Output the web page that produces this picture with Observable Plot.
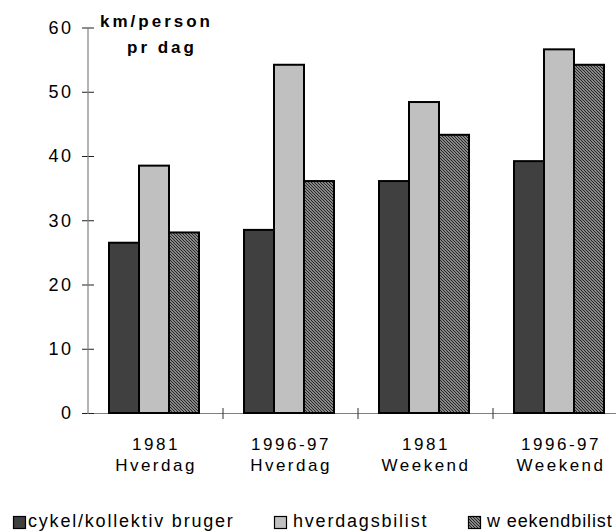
<!DOCTYPE html>
<html>
<head>
<meta charset="utf-8">
<script src="https://cdn.jsdelivr.net/npm/d3@7"></script>
<script src="https://cdn.jsdelivr.net/npm/@observablehq/plot@0.6"></script>
<style>
  html, body { margin: 0; padding: 0; background: #fff; }
  #wrap { position: relative; width: 616px; height: 531px; overflow: hidden; font-family: "Liberation Sans", Arial, sans-serif; }
  #title { position: absolute; left: 100px; top: 9px; font-weight: bold; font-size: 17px; line-height: 26px; letter-spacing: 3px; color: #000; white-space: pre; }
  svg { display: block; }
</style>
</head>
<body>
<div id="wrap"><div id="chart"></div><div id="legend"></div><div id="title"></div></div>
<script>
// ---- data ----
const groups = ["1981\nHverdag", "1996-97\nHverdag", "1981\nWeekend", "1996-97\nWeekend"];
const series = ["cykel/kollektiv bruger", "hverdagsbilist", "w eekendbilist"];
const cykelValues = [26.5, 28.5, 36.1, 39.2];
const hverdagsValues = [38.5, 54.2, 48.4, 56.6];
const weekendValues = [28.1, 36.1, 43.3, 54.2];
const yTicks = [0, 10, 20, 30, 40, 50, 60];
const seriesColors = ["#404040", "#c0c0c0", "url(#hatch)"];
const titleLines = ["km/person", "pr dag"];

const valueLists = [cykelValues, hverdagsValues, weekendValues];
const data = groups.flatMap((g, i) => series.map((s, j) => ({group: g, series: s, value: valueLists[j][i]})));

const plot = Plot.plot({
  width: 616,
  height: 500,
  marginTop: 27.5,
  marginBottom: 87,
  marginLeft: 88,
  marginRight: 0,
  style: {fontFamily: "'Liberation Sans', Arial, sans-serif", fontSize: "17px", letterSpacing: "2.5px", color: "#000", background: "#fff", overflow: "hidden"},
  fx: {domain: groups, range: [88, 628], padding: 0, axis: null, label: null},
  x: {domain: series, paddingInner: 0, paddingOuter: 0.725, align: 0.47, axis: null},
  y: {domain: [0, 60], axis: null},
  color: {domain: series, range: seriesColors},
  marks: [
    Plot.ruleY([0], {stroke: "#808080", strokeWidth: 1.2}),
    Plot.barY(data, {fx: "group", x: "series", y: "value", fill: "series", stroke: "#000", strokeWidth: 2}),
    Plot.axisY(yTicks, {tickSize: 12, dx: 6, tickPadding: 9, fontSize: 18, stroke: "#202020", label: null}),
    Plot.axisFx({anchor: "bottom", tickSize: 0, tickPadding: 22, lineHeight: 1.235, label: null})
  ]
});

const svg = d3.select(plot);
// hatch pattern
const defs = svg.insert("defs", ":first-child");
const pat = defs.append("pattern").attr("id", "hatch").attr("patternUnits", "userSpaceOnUse").attr("width", 3).attr("height", 3);
pat.append("rect").attr("width", 3).attr("height", 3).attr("fill", "#d4d4d4");
pat.append("path").attr("d", "M-1,-1L4,4M-1,2L1,4M2,-1L4,1").attr("stroke", "#262626").attr("stroke-width", 1.3);

// y axis line and group separator ticks from the scales
const fx = plot.scale("fx");
const y = plot.scale("y");
const y0 = y.apply(0), yTop = y.apply(60);
const left = fx.apply(groups[0]);
svg.append("line").attr("x1", left).attr("x2", left).attr("y1", yTop).attr("y2", y0 + 1)
  .attr("stroke", "#808080").attr("stroke-width", 1.2);
groups.forEach(g => {
  const xb = fx.apply(g) + fx.step;
  svg.append("line").attr("x1", xb).attr("x2", xb).attr("y1", y0 - 5).attr("y2", y0 + 6)
    .attr("stroke", "#303030").attr("stroke-width", 1);
});

document.getElementById("chart").appendChild(plot);

// title
document.getElementById("title").innerHTML = titleLines[0] + "<br><span style='padding-left:27px'>" + titleLines[1] + "</span>";

// legend
const legendX = [13, 274, 468];
const legendGap = [15, 19, 19];
const legendSpacing = ["1.8px", "1.8px", "0.9px"];
const leg = d3.select("#legend").append("svg").attr("width", 616).attr("height", 31)
  .style("font-family", "'Liberation Sans', Arial, sans-serif").style("font-size", "18px");
series.forEach((s, i) => {
  leg.append("rect").attr("x", legendX[i] + 0.5).attr("y", 16.5).attr("width", 12).attr("height", 12)
    .attr("fill", seriesColors[i]).attr("stroke", "#000").attr("stroke-width", 1.2);
  leg.append("text").attr("x", legendX[i] + legendGap[i]).attr("y", 27).attr("fill", "#000")
    .style("letter-spacing", legendSpacing[i]).text(s);
});
</script>
</body>
</html>
